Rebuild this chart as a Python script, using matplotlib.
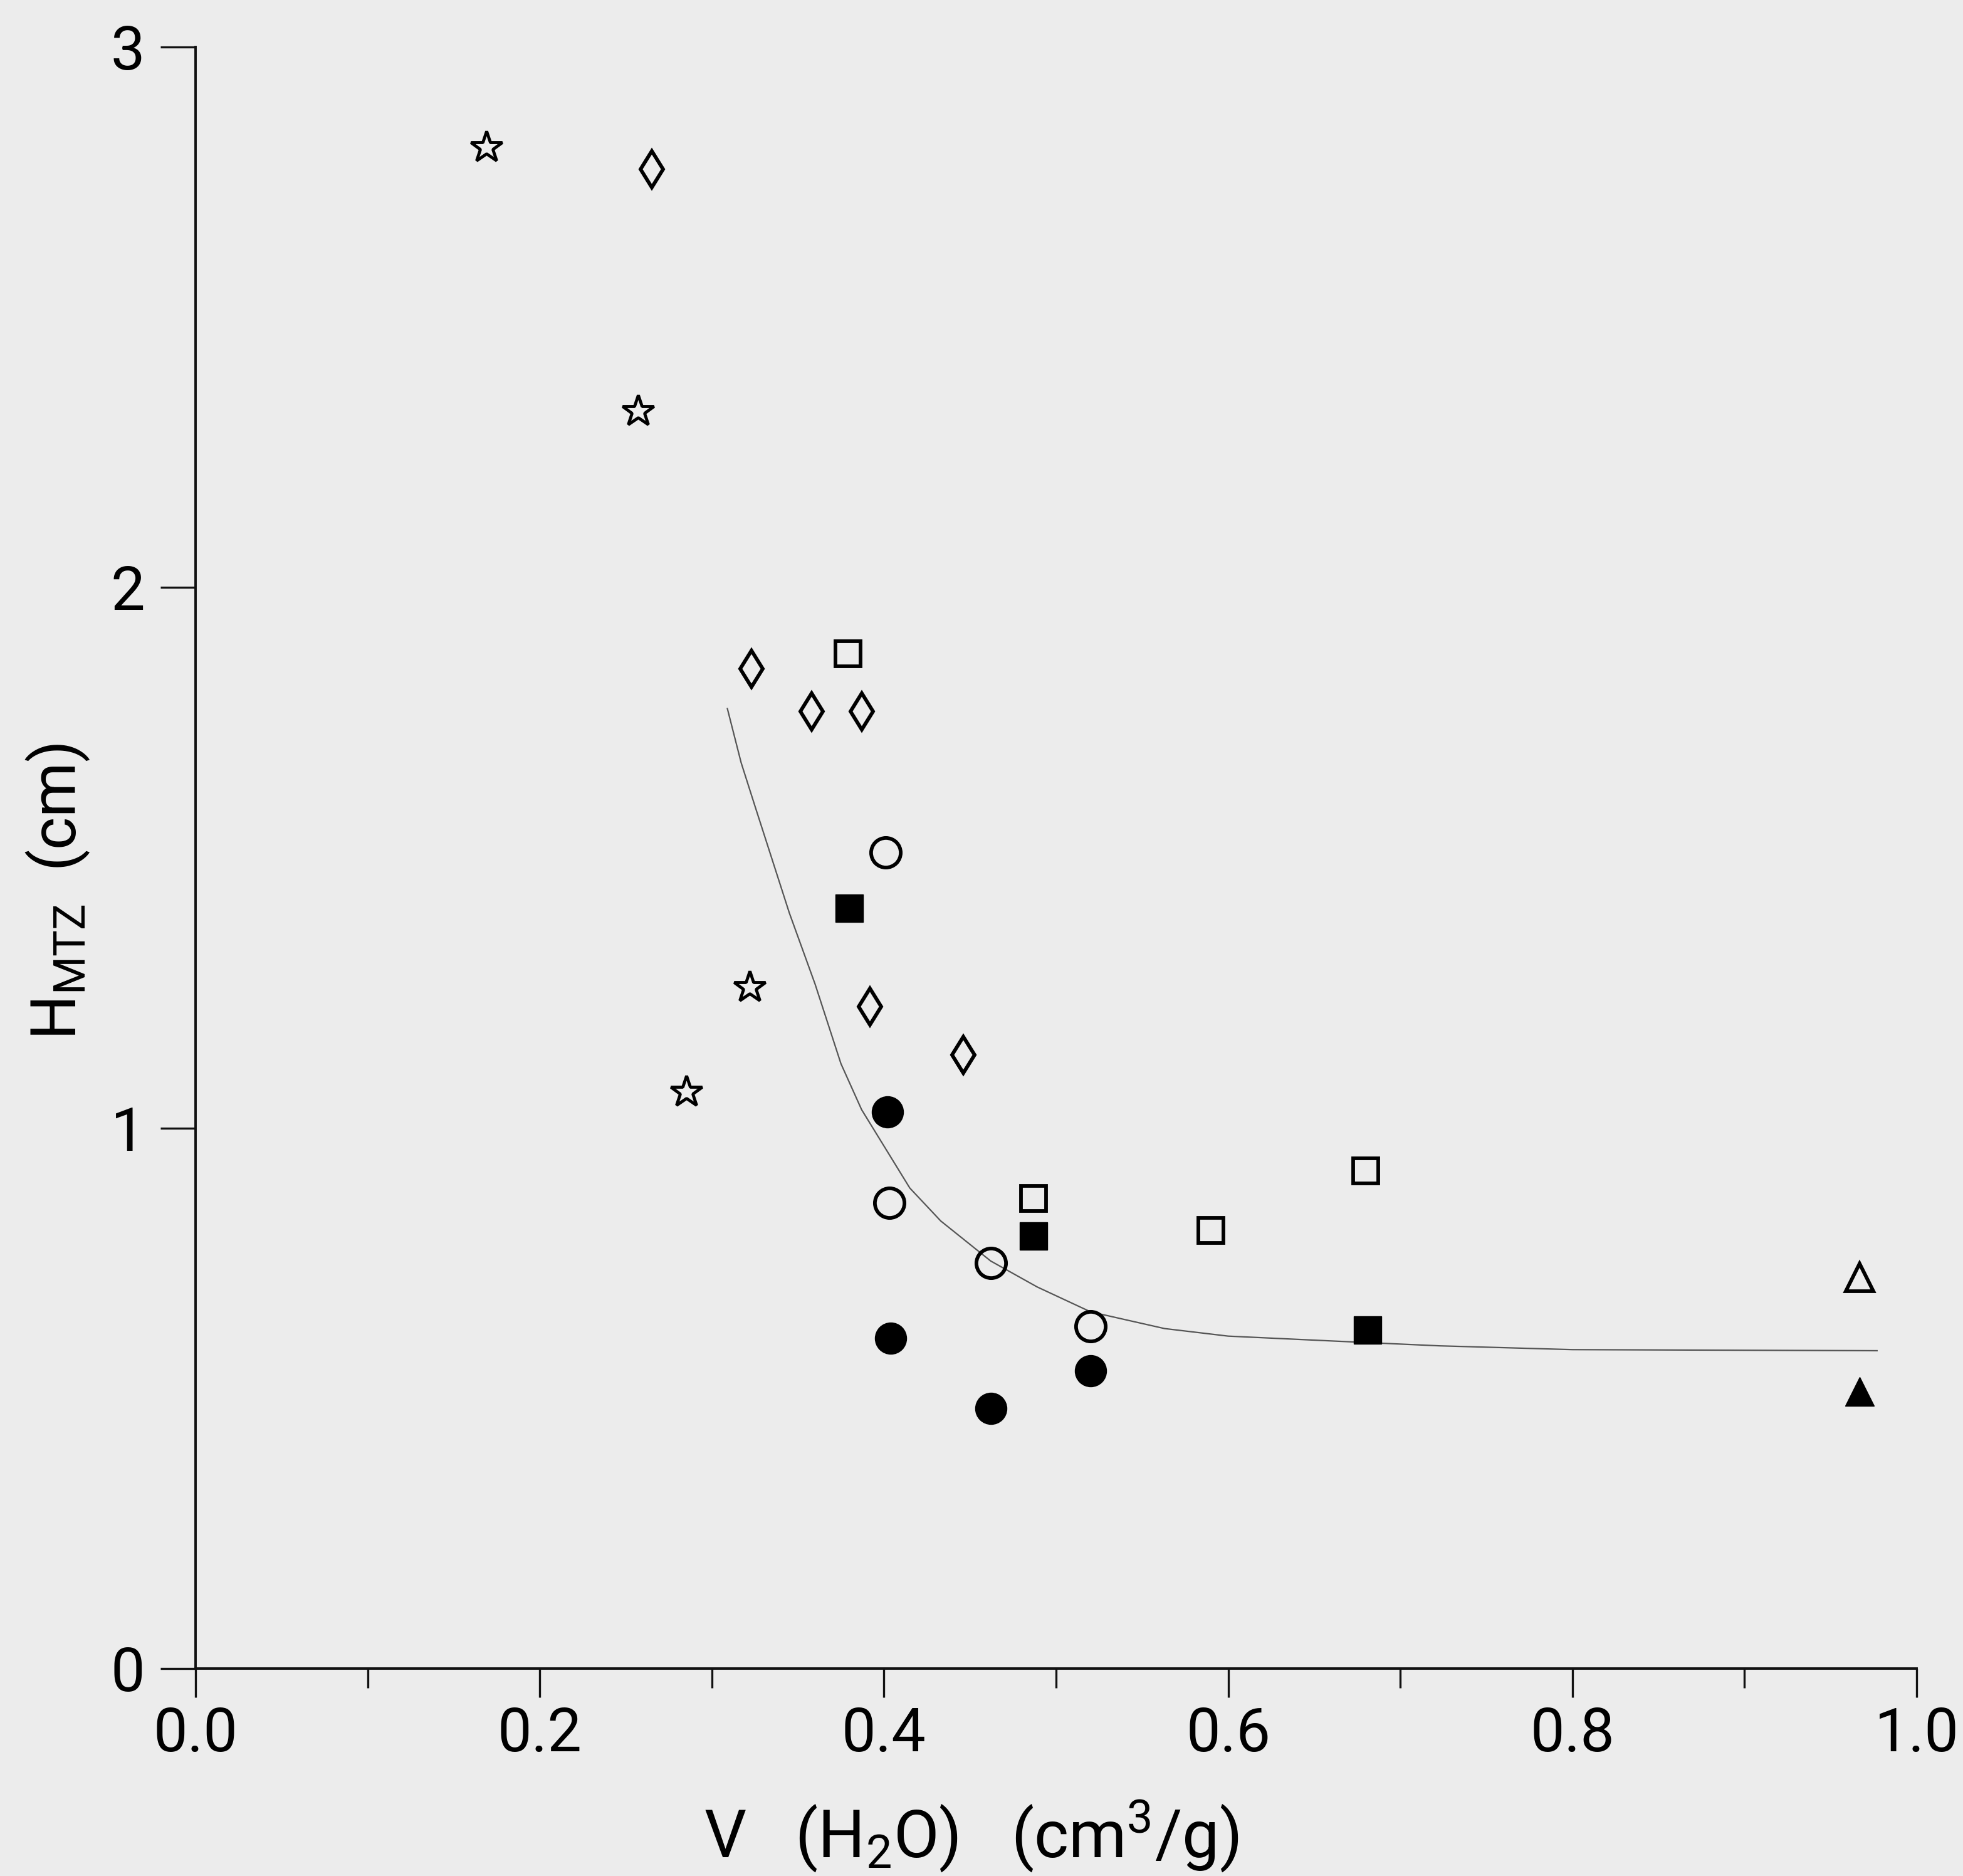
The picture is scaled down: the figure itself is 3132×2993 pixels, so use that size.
import matplotlib
matplotlib.use('Agg')
import matplotlib.pyplot as plt
from matplotlib.ticker import MultipleLocator, FormatStrFormatter

plt.rcParams['font.family'] = ['Roboto', 'DejaVu Sans']
plt.rcParams['font.weight'] = 'normal'
plt.rcParams['mathtext.fontset'] = 'custom'
plt.rcParams['mathtext.rm'] = 'Roboto'
plt.rcParams['mathtext.it'] = 'Roboto'
plt.rcParams['mathtext.bf'] = 'Roboto:bold'

# ---------------- data ----------------
star_x = [0.169, 0.257, 0.322, 0.285]
star_y = [2.814, 2.326, 1.260, 1.067]

diamond_x = [0.265, 0.323, 0.358, 0.387, 0.392, 0.446]
diamond_y = [2.774, 1.850, 1.771, 1.771, 1.225, 1.135]

open_sq_x = [0.379, 0.487, 0.590, 0.680]
open_sq_y = [1.878, 0.870, 0.811, 0.921]

fill_sq_x = [0.380, 0.487, 0.681]
fill_sq_y = [1.407, 0.800, 0.626]

open_circ_x = [0.401, 0.403, 0.462, 0.520]
open_circ_y = [1.510, 0.862, 0.750, 0.633]

fill_circ_x = [0.402, 0.404, 0.462, 0.520]
fill_circ_y = [1.030, 0.611, 0.481, 0.551]

open_tri_x = [0.967]
open_tri_y = [0.724]
fill_tri_x = [0.967]
fill_tri_y = [0.513]

curve_x = [0.309, 0.317, 0.325, 0.345, 0.360, 0.375, 0.387, 0.415, 0.433,
           0.462, 0.489, 0.520, 0.563, 0.600, 0.647, 0.681, 0.723, 0.800, 0.977]
curve_y = [1.776, 1.676, 1.596, 1.398, 1.266, 1.119, 1.034, 0.889, 0.828,
           0.754, 0.706, 0.660, 0.629, 0.615, 0.608, 0.603, 0.597, 0.590, 0.588]

x_ticks = [0.0, 0.2, 0.4, 0.6, 0.8, 1.0]
y_ticks = [0, 1, 2, 3]

# ---------------- figure ----------------
bg = '#ececec'
fig = plt.figure(figsize=(31.32, 29.93), dpi=100, facecolor=bg)
ax = fig.add_axes([312/3132, 1-2662/2993, (3058-312)/3132, (2662-75)/2993])
ax.set_facecolor(bg)

ax.plot(curve_x, curve_y, color='#555555', lw=1.6, zorder=2)

mew = 4.2
ax.plot(star_x, star_y, ls='none', marker='*', ms=38, mfc='none', mec='black', mew=3.5, zorder=3)
ax.plot(diamond_x, diamond_y, ls='none', marker='d', ms=30, mfc='none', mec='black', mew=mew, zorder=3)
ax.plot(open_sq_x, open_sq_y, ls='none', marker='s', ms=29, mfc='none', mec='black', mew=mew, zorder=3)
ax.plot(fill_sq_x, fill_sq_y, ls='none', marker='s', ms=31, mfc='black', mec='black', mew=1, zorder=3)
ax.plot(open_circ_x, open_circ_y, ls='none', marker='o', ms=34, mfc='none', mec='black', mew=mew, zorder=3)
ax.plot(fill_circ_x, fill_circ_y, ls='none', marker='o', ms=36, mfc='black', mec='black', mew=1, zorder=3)
ax.plot(open_tri_x, open_tri_y, ls='none', marker='^', ms=31, mfc='none', mec='black', mew=mew, zorder=3)
ax.plot(fill_tri_x, fill_tri_y, ls='none', marker='^', ms=33, mfc='black', mec='black', mew=1, zorder=3)

ax.set_xlim(0, 1.0)
ax.set_ylim(0, 3)
for s in ['top', 'right']:
    ax.spines[s].set_visible(False)
for s in ['left', 'bottom']:
    ax.spines[s].set_linewidth(2.8)
    ax.spines[s].set_color('#111111')

ax.set_xticks(x_ticks)
ax.xaxis.set_major_formatter(FormatStrFormatter('%.1f'))
ax.xaxis.set_minor_locator(MultipleLocator(0.1))
ax.set_yticks(y_ticks)

ax.tick_params(axis='x', which='major', direction='out', length=33, width=2.4,
               labelsize=70, pad=10, color='#111111')
ax.tick_params(axis='x', which='minor', direction='out', length=22, width=2.4, color='#111111')
ax.tick_params(axis='y', which='major', direction='out', length=40, width=2.4,
               labelsize=70, pad=18, color='#111111')

fig.text(1550/3132, 1-2930/2993, r'V   (H$_2$O)   (cm$^3$/g)', fontsize=76,
         ha='center', va='center')
fig.text(92/3132, 1-1422/2993, r'H$_{\mathrm{MTZ}}$  (cm)', fontsize=72,
         rotation=90, ha='center', va='center')

fig.savefig('out.png', dpi=100, facecolor=bg)
